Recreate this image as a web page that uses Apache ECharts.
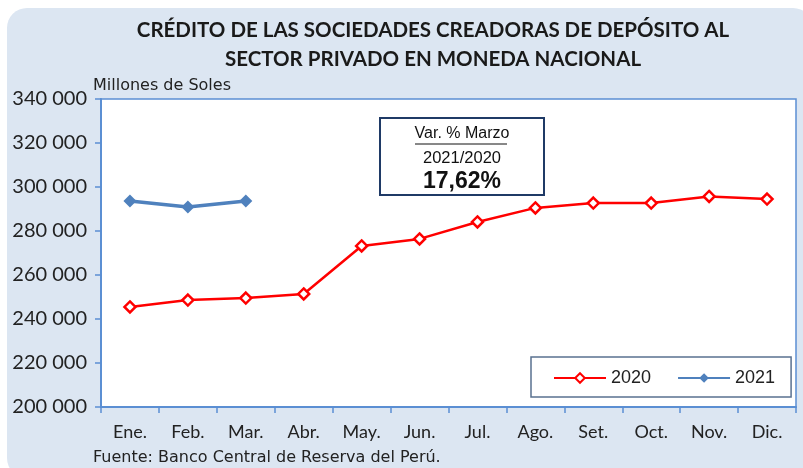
<!DOCTYPE html>
<html>
<head>
  <meta charset="utf-8">
  <title>Crédito sector privado</title>
  <script src="https://cdn.jsdelivr.net/npm/echarts@6/dist/echarts.min.js"></script>
  <style>
    html, body { margin: 0; padding: 0; background: #fff; }
    #main { width: 803px; height: 468px; }
  </style>
</head>
<body>
<div id="main"></div>
<script>
  // datos (millones de soles)
  var meses = ['Ene.', 'Feb.', 'Mar.', 'Abr.', 'May.', 'Jun.', 'Jul.', 'Ago.', 'Set.', 'Oct.', 'Nov.', 'Dic.'];
  var serie2020 = [245500, 248600, 249500, 251400, 273200, 276400, 284100, 290500, 292700, 292700, 295700, 294500];
  var serie2021 = [293600, 290900, 293600];
  var titulo = 'CRÉDITO DE LAS SOCIEDADES CREADORAS DE DEPÓSITO AL\nSECTOR PRIVADO EN MONEDA NACIONAL';
  var unidad = 'Millones de Soles';
  var fuente = 'Fuente: Banco Central de Reserva del Perú.';
  var variacion = ['Var. % Marzo', '2021/2020', '17,62%'];

  var azulEje = '#5b8fd3';
  var chart = echarts.init(document.getElementById('main'));

  chart.setOption({
    backgroundColor: '#ffffff',
    animation: false,
    graphic: [
      {
        type: 'rect', z: -10, silent: true,
        shape: { x: 7, y: 8, width: 806, height: 470, r: 20 },
        style: { fill: '#dce6f2' }
      },
      {
        type: 'text', z: 10, x: 433, y: 16,
        style: {
          text: titulo, fill: '#1a1a1a', align: 'center',
          font: 'bold 20.5px Lato, sans-serif', lineHeight: 29
        }
      },
      {
        type: 'text', left: 93, top: 78, z: 10,
        style: { text: unidad, fill: '#222', font: '16px "DejaVu Sans", sans-serif' }
      },
      {
        type: 'text', left: 93, top: 450, z: 10,
        style: { text: fuente, fill: '#222', font: '16px "DejaVu Sans", sans-serif' }
      },
      {
        type: 'group', left: 379, top: 117, z: 20,
        children: [
          { type: 'rect', shape: { x: 0, y: 0, width: 164, height: 77 },
            style: { fill: '#fff', stroke: '#1f3a66', lineWidth: 2 } },
          { type: 'text', style: { text: variacion[0], x: 82, y: 16, align: 'center', verticalAlign: 'middle',
              fill: '#111', font: '16px "Liberation Sans", Arial, sans-serif' } },
          { type: 'line', shape: { x1: 35, y1: 26, x2: 127, y2: 26 }, style: { stroke: '#111', lineWidth: 1 } },
          { type: 'text', style: { text: variacion[1], x: 82, y: 40, align: 'center', verticalAlign: 'middle',
              fill: '#111', font: '16.5px "Liberation Sans", Arial, sans-serif' } },
          { type: 'text', style: { text: variacion[2], x: 82, y: 64, align: 'center', verticalAlign: 'middle',
              fill: '#111', font: 'bold 23px "Liberation Sans", Arial, sans-serif' } }
        ]
      }
    ],
    legend: {
      left: 531, top: 357, width: 253, height: 42,
      padding: [12, 16, 10, 22],
      itemGap: 26, itemWidth: 52, itemHeight: 12,
      backgroundColor: '#fff', borderColor: '#5a7190', borderWidth: 1.5,
      textStyle: { fontSize: 18, color: '#222', fontFamily: '"Liberation Sans", Arial, sans-serif' },
      data: ['2020', '2021']
    },
    grid: {
      left: 101, right: 7, top: 99, bottom: 61,
      show: true, backgroundColor: '#fff', borderColor: azulEje, borderWidth: 1.5
    },
    xAxis: {
      type: 'category', data: meses, boundaryGap: true,
      axisLine: { lineStyle: { color: azulEje, width: 2 } },
      axisTick: { show: true, length: 6, lineStyle: { color: azulEje, width: 1.5 } },
      axisLabel: { color: '#222', fontSize: 18, margin: 16, fontFamily: 'Lato, sans-serif' }
    },
    yAxis: {
      type: 'value', min: 200000, max: 340000, interval: 20000,
      splitLine: { show: false },
      axisLine: { show: true, lineStyle: { color: azulEje, width: 2 } },
      axisTick: { show: true, length: 6, lineStyle: { color: azulEje, width: 1.5 } },
      axisLabel: {
        color: '#222', fontSize: 20, margin: 14, fontFamily: 'Lato, sans-serif',
        formatter: function (v) { return String(v).replace(/\B(?=(\d{3})+(?!\d))/g, ' '); }
      }
    },
    series: [
      {
        name: '2020', type: 'line', data: serie2020,
        color: '#ff0000',
        lineStyle: { color: '#ff0000', width: 2.5 },
        symbol: 'diamond', symbolSize: 11,
        itemStyle: { color: '#fff', borderColor: '#ff0000', borderWidth: 2.5 }
      },
      {
        name: '2021', type: 'line', data: serie2021,
        color: '#4f81bd',
        lineStyle: { color: '#4f81bd', width: 3.5 },
        symbol: 'diamond', symbolSize: 13,
        itemStyle: { color: '#4f81bd' }
      }
    ]
  });
</script>
</body>
</html>
